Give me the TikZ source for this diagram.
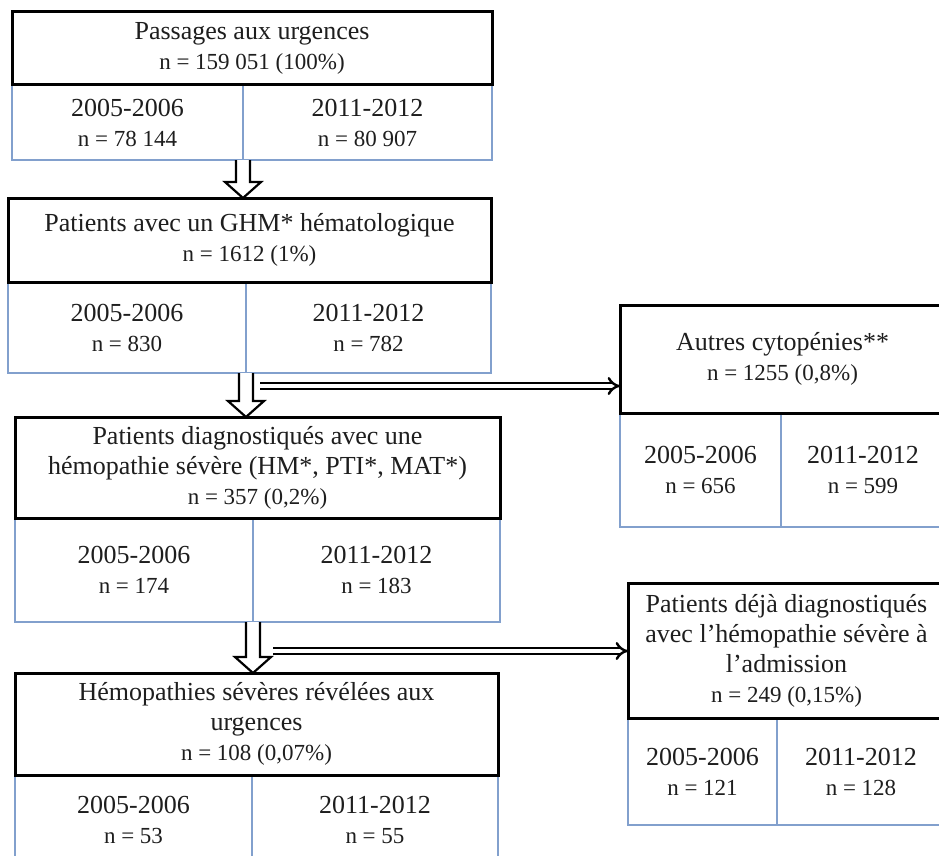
\documentclass[tikz,border=0pt]{standalone}
\usepackage{fontspec}
\setmainfont{Liberation Serif}
\usetikzlibrary{arrows.meta, calc, positioning}
\definecolor{cellblue}{RGB}{130,160,205}
\definecolor{inkgray}{RGB}{30,30,30}
\newcommand{\nfont}{\fontsize{23}{27}\selectfont}
% hollow block arrow from a point down to the top of a node
\newcommand{\hollowdown}[2]{%
  \coordinate (from) at (#1);
  \coordinate (tip) at (from |- #2.north);
  \draw[blockarrow] ($(from)+(-7,0)$) -- ($(tip)+(-7,-16)$) -- ($(tip)+(-18,-16)$)
    -- (tip) -- ($(tip)+(18,-16)$) -- ($(tip)+(7,-16)$) -- ($(from)+(7,0)$);}
\tikzset{
  headbox/.style={draw=black, line width=3pt, fill=white, align=center, text=inkgray,
    font=\fontsize{26}{30}\selectfont, inner sep=2pt, outer sep=0pt},
  cellbox/.style={draw=cellblue, line width=2pt, fill=white, align=center, text=inkgray,
    font=\fontsize{26}{30}\selectfont, inner sep=2pt, outer sep=0pt},
  blockarrow/.style={draw=black, line width=2.2pt, fill=white, line join=miter},
  sidearrow/.style={draw=black, double=white, double distance=3.5pt, line width=2.4pt, -{Implies}}
}

\begin{document}
\begin{tikzpicture}[x=1pt, y=-1pt]
\useasboundingbox (0,0) rectangle (939,856);
\clip (0,0) rectangle (939,856);

% Passages aux urgences
\node (pass-a) [cellbox, minimum width=231, minimum height=75, anchor=north west] at (12,85)
  {2005-2006\\{\nfont n = 78 144}};
\node (pass-b) [cellbox, minimum width=249, minimum height=75, right=0pt of pass-a]
  {2011-2012\\{\nfont n = 80 907}};
\node (pass) [headbox, minimum width=480, minimum height=73, anchor=south west] at (pass-a.north west)
  {Passages aux urgences\\{\nfont n = 159 051 (100\%)}};

% GHM hematologique
\node (ghm-a) [cellbox, minimum width=238, minimum height=91, anchor=north west] at (8,282)
  {2005-2006\\{\nfont n = 830}};
\node (ghm-b) [cellbox, minimum width=245, minimum height=91, right=0pt of ghm-a]
  {2011-2012\\{\nfont n = 782}};
\node (ghm) [headbox, minimum width=483, minimum height=84, anchor=south west] at (ghm-a.north west)
  {Patients avec un GHM* hématologique\\{\nfont n = 1612 (1\%)}};

% Autres cytopenies
\node (cyto-a) [cellbox, minimum width=161, minimum height=114, anchor=north west] at (620,413)
  {2005-2006\\{\nfont n = 656}};
\node (cyto-b) [cellbox, minimum width=164, minimum height=114, right=0pt of cyto-a]
  {2011-2012\\{\nfont n = 599}};
\node (cyto) [headbox, minimum width=325, minimum height=108, anchor=south west] at (cyto-a.north west)
  {Autres cytopénies**\\{\nfont n = 1255 (0,8\%)}};

% hemopathie severe
\node (diag-a) [cellbox, minimum width=238, minimum height=104, anchor=north west] at (15,518)
  {2005-2006\\{\nfont n = 174}};
\node (diag-b) [cellbox, minimum width=247, minimum height=104, right=0pt of diag-a]
  {2011-2012\\{\nfont n = 183}};
\node (diag) [headbox, minimum width=485, minimum height=101, anchor=south west] at (diag-a.north west)
  {Patients diagnostiqués avec une\\hémopathie sévère (HM*, PTI*, MAT*)\\{\nfont n = 357 (0,2\%)}};

% deja diagnostiques
\node (deja-a) [cellbox, minimum width=149, minimum height=107, anchor=north west] at (628,718)
  {2005-2006\\{\nfont n = 121}};
\node (deja-b) [cellbox, minimum width=168, minimum height=107, right=0pt of deja-a]
  {2011-2012\\{\nfont n = 128}};
\node (deja) [headbox, minimum width=317, minimum height=135, anchor=south west] at (deja-a.north west)
  {Patients déjà diagnostiqués\\avec l’hémopathie sévère à\\l’admission\\{\nfont n = 249 (0,15\%)}};

% revelees aux urgences
\node (revel-a) [cellbox, minimum width=237, minimum height=90, anchor=north west] at (15,775)
  {2005-2006\\{\nfont n = 53}};
\node (revel-b) [cellbox, minimum width=246, minimum height=90, right=0pt of revel-a]
  {2011-2012\\{\nfont n = 55}};
\node (revel) [headbox, minimum width=483, minimum height=102, anchor=south west] at (revel-a.north west)
  {Hémopathies sévères révélées aux\\urgences\\{\nfont n = 108 (0,07\%)}};

% arrows
\coordinate (cyto-in) at ($(ghm-a.south east)+(14,13)$);
\coordinate (deja-in) at ($(diag-a.south east)+(20,29)$);
\draw[sidearrow] (cyto-in) -- (cyto-in -| cyto.west);
\draw[sidearrow] (deja-in) -- (deja-in -| deja.west);
\hollowdown{pass-a.south east}{ghm}
\hollowdown{ghm-a.south east}{diag}
\hollowdown{diag-a.south east}{revel}
\end{tikzpicture}
\end{document}
